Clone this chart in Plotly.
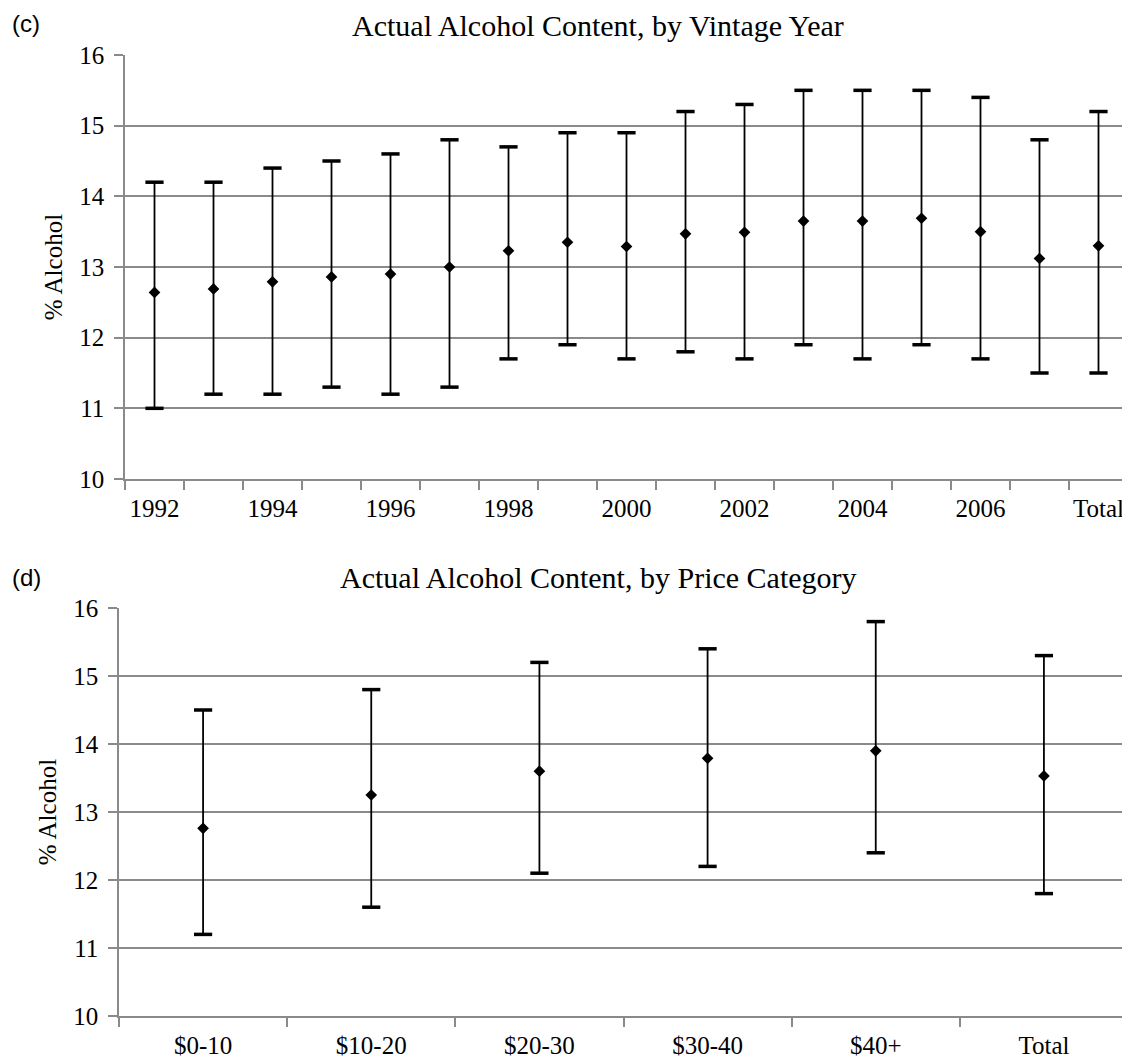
import plotly.graph_objects as go

# ---------------- data ----------------
vintage_categories = ["1992", "1993", "1994", "1995", "1996", "1997", "1998", "1999",
                      "2000", "2001", "2002", "2003", "2004", "2005", "2006", "2007", "Total"]
vintage_tick_labels = ["1992", "", "1994", "", "1996", "", "1998", "", "2000", "",
                       "2002", "", "2004", "", "2006", "", "Total"]
vintage_mean = [12.64, 12.69, 12.79, 12.86, 12.90, 13.00, 13.23, 13.35, 13.29, 13.47,
                13.49, 13.65, 13.65, 13.69, 13.50, 13.12, 13.30]
vintage_high = [14.2, 14.2, 14.4, 14.5, 14.6, 14.8, 14.7, 14.9, 14.9, 15.2,
                15.3, 15.5, 15.5, 15.5, 15.4, 14.8, 15.2]
vintage_low = [11.0, 11.2, 11.2, 11.3, 11.2, 11.3, 11.7, 11.9, 11.7, 11.8,
               11.7, 11.9, 11.7, 11.9, 11.7, 11.5, 11.5]

price_categories = ["$0-10", "$10-20", "$20-30", "$30-40", "$40+", "Total"]
price_mean = [12.76, 13.25, 13.60, 13.79, 13.90, 13.53]
price_high = [14.5, 14.8, 15.2, 15.4, 15.8, 15.3]
price_low = [11.2, 11.6, 12.1, 12.2, 12.4, 11.8]

title_top = "Actual Alcohol Content, by Vintage Year"
title_bottom = "Actual Alcohol Content, by Price Category"
y_title = "% Alcohol"

# ---------------- styling ----------------
# page has an 8px body margin; figure sized so the page is exactly 1130x1059
OFF = 8
W, H = 1130 - OFF, 1059 - OFF
GRID = "#8a8a8a"
SERIF = "Liberation Serif"
SANS = "Liberation Sans"


def px_x(p):
    return min(1.0, (p - OFF) / W)


def px_y(p):
    return 1 - (p - OFF) / H


fig = go.Figure()


def add_panel(cats, mean, high, low, xref, yref):
    up = [h - m for h, m in zip(high, mean)]
    dn = [m - l for m, l in zip(mean, low)]
    fig.add_trace(go.Scatter(
        x=cats, y=mean, mode="markers", xaxis=xref, yaxis=yref,
        marker=dict(symbol="diamond", size=9, color="black"),
        error_y=dict(type="data", symmetric=False, array=up, arrayminus=dn,
                     color="black", thickness=1.8, width=0),
        showlegend=False, hoverinfo="skip"))
    for vals in (high, low):
        fig.add_trace(go.Scatter(
            x=cats, y=vals, mode="markers", xaxis=xref, yaxis=yref,
            marker=dict(symbol="line-ew", size=13,
                        line=dict(color="black", width=3.5)),
            showlegend=False, hoverinfo="skip"))


add_panel(vintage_categories, vintage_mean, vintage_high, vintage_low, "x", "y")
add_panel(price_categories, price_mean, price_high, price_low, "x2", "y2")

tickfont = dict(family=SERIF, size=25, color="black")

xcommon = dict(type="category", tickson="boundaries", ticks="outside", ticklen=9,
               tickcolor=GRID, tickwidth=1.5, showline=True, linecolor=GRID,
               linewidth=1.5, showgrid=False, tickfont=tickfont, ticklabelstandoff=6,
               tickangle=0, automargin=False)
ycommon = dict(range=[10, 16], dtick=1, tick0=10, ticks="outside", ticklen=9,
               tickcolor=GRID, tickwidth=1.5, showline=True, linecolor=GRID,
               linewidth=1.5, showgrid=True, gridcolor=GRID, gridwidth=1.5,
               zeroline=False, tickfont=tickfont, ticklabelstandoff=5,
               automargin=False,
               title=dict(text=y_title, font=dict(family=SERIF, size=25, color="black"),
                          standoff=10))

fig.update_layout(
    width=W, height=H,
    autosize=False,
    margin=dict(l=0, r=0, t=0, b=0, pad=0, autoexpand=False),
    paper_bgcolor="white", plot_bgcolor="white",
    xaxis=dict(xcommon, domain=[px_x(125), px_x(1128)], anchor="y",
               range=[-0.5, len(vintage_categories) - 0.5],
               tickmode="array", tickvals=vintage_categories, ticktext=vintage_tick_labels),
    yaxis=dict(ycommon, domain=[px_y(479), px_y(55)], anchor="x"),
    xaxis2=dict(xcommon, domain=[px_x(119), px_x(1128)], anchor="y2",
                range=[-0.5, len(price_categories) - 0.5]),
    yaxis2=dict(ycommon, domain=[px_y(1016), px_y(608)], anchor="x2"),
    annotations=[
        dict(text=title_top, x=px_x(598), y=px_y(26), xref="paper", yref="paper",
             showarrow=False, font=dict(family=SERIF, size=30, color="black"),
             xanchor="center", yanchor="middle"),
        dict(text=title_bottom, x=px_x(598), y=px_y(577), xref="paper", yref="paper",
             showarrow=False, font=dict(family=SERIF, size=30, color="black"),
             xanchor="center", yanchor="middle"),
        dict(text="(c)", x=px_x(10), y=px_y(24), xref="paper", yref="paper",
             showarrow=False, font=dict(family=SANS, size=24, color="black"),
             xanchor="left", yanchor="middle"),
        dict(text="(d)", x=px_x(10), y=px_y(577), xref="paper", yref="paper",
             showarrow=False, font=dict(family=SANS, size=24, color="black"),
             xanchor="left", yanchor="middle"),
    ],
)

fig.write_html("out.html")
